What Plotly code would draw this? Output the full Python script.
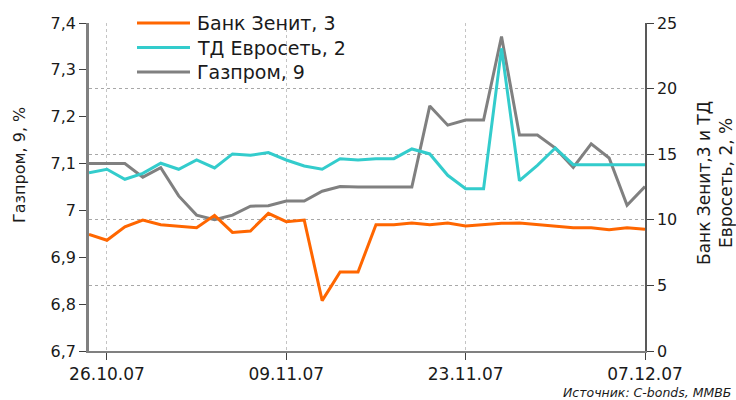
import plotly.graph_objects as go

# ── Data ──────────────────────────────────────────────────────────────────────

DATES = [
    "25.10.07", "26.10.07", "29.10.07", "30.10.07", "31.10.07", "01.11.07",
    "02.11.07", "05.11.07", "06.11.07", "07.11.07", "08.11.07", "09.11.07",
    "12.11.07", "13.11.07", "14.11.07", "15.11.07", "16.11.07", "19.11.07",
    "20.11.07", "21.11.07", "22.11.07", "23.11.07", "26.11.07", "27.11.07",
    "28.11.07", "29.11.07", "30.11.07", "03.12.07", "04.12.07", "05.12.07",
    "06.12.07", "07.12.07",
]
TICK_DATES = ["26.10.07", "09.11.07", "23.11.07", "07.12.07"]

# Банк Зенит, 3 (right axis)
zenit = [8.89, 8.44, 9.47, 9.98, 9.63, 9.50, 9.40, 10.34, 9.04, 9.15, 10.49,
         9.86, 9.98, 3.84, 6.02, 6.02, 9.63, 9.63, 9.76, 9.63, 9.76, 9.53,
         9.63, 9.73, 9.76, 9.65, 9.53, 9.40, 9.40, 9.25, 9.40, 9.27]

# ТД Евросеть, 2 (right axis)
evroset = [13.59, 13.85, 13.09, 13.54, 14.31, 13.85, 14.56, 13.95, 15.02,
           14.92, 15.12, 14.56, 14.10, 13.85, 14.66, 14.56, 14.66, 14.66,
           15.40, 15.02, 13.39, 12.37, 12.37, 23.07, 12.98, 14.15, 15.47,
           14.20, 14.20, 14.20, 14.20, 14.20]

# Газпром, 9 (left axis)
gazprom = [7.100, 7.100, 7.100, 7.071, 7.091, 7.031, 6.990, 6.980, 6.990,
           7.009, 7.010, 7.020, 7.020, 7.041, 7.051, 7.050, 7.050, 7.050,
           7.050, 7.223, 7.182, 7.193, 7.193, 7.371, 7.161, 7.161, 7.133,
           7.092, 7.142, 7.112, 7.011, 7.051]

# ── Style ─────────────────────────────────────────────────────────────────────

COLORS = {
    "zenit":   "#FF6600",
    "evroset": "#33CCCC",
    "gazprom": "#808080",
    "text":    "#1a1a1a",
    "grid":    "#a8a8a8",
    "vgrid":   "#c4c4c4",
}
FONT = "DejaVu Sans, Verdana, sans-serif"

# plot area in pixels
L, R, T, B = 89, 91, 23, 49
W, H = 736, 400
PW, PH = W - L - R, H - T - B


def px_x(x):
    return (x - L) / PW


def px_y(y):
    return (H - B - y) / PH


SERIES = [
    ("Банк Зенит, 3", zenit, "y2", COLORS["zenit"]),
    ("ТД Евросеть, 2", evroset, "y2", COLORS["evroset"]),
    ("Газпром, 9", gazprom, "y", COLORS["gazprom"]),
]

fig = go.Figure()
for name, values, axis, color in SERIES:
    fig.add_trace(go.Scatter(
        x=DATES, y=values, name=name, yaxis=axis, mode="lines",
        line=dict(color=color, width=3),
    ))

# legend drawn by hand: plotly's own legend pushes the top margin when it
# sits above the plot area like in the original
shapes, annotations = [], []
for i, (name, _, _, color) in enumerate(SERIES):
    row_y = px_y(23 + i * 24.5)
    shapes.append(dict(
        type="line", xref="paper", yref="paper",
        x0=px_x(137), x1=px_x(190), y0=row_y, y1=row_y,
        line=dict(color=color, width=3),
    ))
    annotations.append(dict(
        text=name, x=px_x(195), y=row_y, xref="paper", yref="paper",
        xanchor="left", yanchor="middle", showarrow=False,
        font=dict(size=19),
    ))

annotations += [
    dict(text="Газпром, 9, %", x=px_x(19), y=px_y(165),
         xref="paper", yref="paper", xanchor="center", yanchor="middle",
         showarrow=False, textangle=-90, font=dict(size=16)),
    dict(text="Банк Зенит,3 и ТД<br>Евросеть, 2, %", x=px_x(715),
         y=px_y(183), xref="paper", yref="paper", xanchor="center",
         yanchor="middle", showarrow=False, textangle=-90,
         font=dict(size=17)),
    dict(text="<i>Источник: C-bonds, ММВБ</i>", x=px_x(561),
         y=px_y(393), xref="paper", yref="paper", xanchor="left",
         yanchor="middle", showarrow=False, font=dict(size=12.5)),
]

fig.update_layout(
    width=W, height=H,
    margin=dict(l=L, r=R, t=T, b=B),
    paper_bgcolor="white", plot_bgcolor="white",
    font=dict(family=FONT, color=COLORS["text"], size=15),
    separators=", ",
    showlegend=False,
    xaxis=dict(
        type="category", range=[0, len(DATES) - 1],
        tickvals=TICK_DATES, ticktext=TICK_DATES,
        showgrid=True, gridcolor=COLORS["vgrid"], griddash="3px,3px",
        gridwidth=1,
        showline=True, linecolor="#808080", linewidth=2,
        ticks="outside", ticklen=7, tickcolor="#404040",
        tickfont=dict(size=17), zeroline=False,
    ),
    yaxis=dict(
        range=[6.7, 7.4], dtick=0.1, showgrid=False, zeroline=False,
        showline=True, linecolor="#808080", linewidth=2.5,
        ticks="outside", ticklen=7, tickcolor="#404040",
        tickfont=dict(size=16),
    ),
    yaxis2=dict(
        range=[0, 25], dtick=5, overlaying="y", side="right",
        showgrid=True, gridcolor=COLORS["grid"], griddash="3px,3px",
        gridwidth=1,
        zeroline=False, showline=True, linecolor="#595959", linewidth=1.5,
        ticks="outside", ticklen=7, tickcolor="#404040",
        tickfont=dict(size=16),
    ),
    shapes=shapes,
    annotations=annotations,
)

# page body has a default margin; drop it so the figure sits at 0,0
fig.write_html(
    "out.html",
    config={"displayModeBar": False},
    post_script="document.body.style.margin='0px';",
)
